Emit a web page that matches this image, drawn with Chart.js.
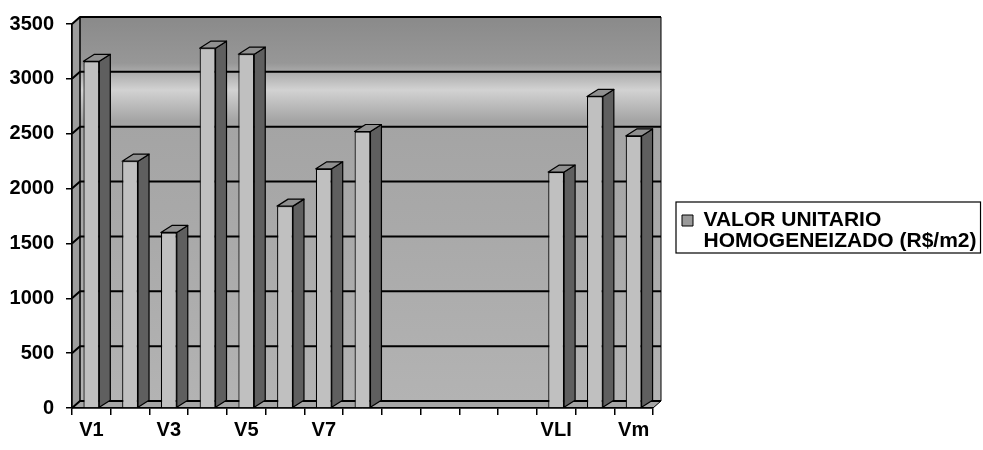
<!DOCTYPE html>
<html>
<head>
<meta charset="utf-8">
<script src="https://cdn.jsdelivr.net/npm/chart.js@4/dist/chart.umd.min.js"></script>
<style>
  html, body { margin: 0; padding: 0; background: #ffffff; }
  #wrap { width: 983px; height: 450px; }
</style>
</head>
<body>
<div id="wrap"><canvas id="chart" width="983" height="450"></canvas></div>
<script>
// Categories along the floor (four empty slots between V8 and VLI)
const categories = ['V1', 'V2', 'V3', 'V4', 'V5', 'V6', 'V7', 'V8', '', '', '', '', 'VLI', 'VLS', 'Vm'];
// Homogenised unit value per category (R$/m2)
const values = [3160, 2250, 1600, 3280, 3225, 1840, 2180, 2520, null, null, null, null, 2150, 2840, 2480];
// Series name, split over two lines in the legend
const seriesLabel = ['VALOR UNITARIO', 'HOMOGENEIZADO (R$/m2)'];
// Value axis range
const yMin = 0;
const yMax = 3500;
const yStep = 500;

const FONT = 'Liberation Sans, Arial, Helvetica, sans-serif';
const LEGEND_SIZE = 21;
const LEGEND_BOX = 11;
const LEGEND_PAD = 29;
const LEGEND_WIDTH = 326;

// depth of the walls and of each column (pixels)
const DX = 8, DY = 7;
const BD = 11, BY = 7;

const COL_FRONT = '#c0c0c0';
const COL_SIDE = '#5f5f5f';
const COL_TOP = '#909090';

function poly(ctx, pts, fill) {
  ctx.beginPath();
  ctx.moveTo(pts[0][0], pts[0][1]);
  for (let k = 1; k < pts.length; k++) ctx.lineTo(pts[k][0], pts[k][1]);
  ctx.closePath();
  if (fill) { ctx.fillStyle = fill; ctx.fill(); }
  ctx.stroke();
}

// back wall, side wall, floor and wall gridlines
const wallPlugin = {
  id: 'wall3d',
  beforeDraw(chart) {
    const { ctx, chartArea: a, scales: { y } } = chart;
    const bl = a.left + DX, br = a.right + DX, bt = a.top - DY, bb = a.bottom - DY;
    ctx.save();

    const g = ctx.createLinearGradient(0, bt, 0, bb);
    g.addColorStop(0.0, '#8a8a8a');
    g.addColorStop(0.12, '#979797');
    g.addColorStop(0.19, '#d2d2d2');
    g.addColorStop(0.27, '#a4a4a4');
    g.addColorStop(0.6, '#aaaaaa');
    g.addColorStop(1.0, '#b3b3b3');
    ctx.fillStyle = g;
    ctx.fillRect(bl, bt, br - bl, bb - bt);

    ctx.strokeStyle = '#000';
    ctx.lineWidth = 1;
    ctx.lineJoin = 'round';
    // side wall
    poly(ctx, [[a.left, a.top], [bl, bt], [bl, bb], [a.left, a.bottom]], '#9d9d9d');
    // floor
    poly(ctx, [[a.left, a.bottom], [a.right, a.bottom], [br, bb], [bl, bb]], '#a6a6a6');
    // wall outline
    ctx.beginPath();
    ctx.moveTo(bl, bb);
    ctx.lineTo(bl, bt);
    ctx.lineTo(br, bt);
    ctx.lineTo(br, bb);
    ctx.stroke();

    // gridlines across the side wall and the back wall
    ctx.lineWidth = 2;
    y.ticks.forEach(t => {
      const py = y.getPixelForValue(t.value);
      ctx.beginPath();
      ctx.moveTo(a.left, py);
      ctx.lineTo(bl, py - DY);
      ctx.lineTo(br, py - DY);
      ctx.stroke();
    });
    ctx.restore();
  }
};

// side and top faces of every column, built on the bar elements
const columnPlugin = {
  id: 'columns3d',
  afterDatasetsDraw(chart) {
    const ctx = chart.ctx;
    const meta = chart.getDatasetMeta(0);
    ctx.save();
    ctx.strokeStyle = '#000';
    ctx.lineWidth = 1.2;
    ctx.lineJoin = 'round';
    meta.data.forEach((el, i) => {
      if (values[i] === null || values[i] === undefined) return;
      const { x, y, width, base } = el.getProps(['x', 'y', 'width', 'base'], true);
      const L = x - width / 2, R = x + width / 2;
      poly(ctx, [[R, y], [R + BD, y - BY], [R + BD, base - BY], [R, base]], COL_SIDE);
      poly(ctx, [[L, y], [R, y], [R + BD, y - BY], [L + BD, y - BY]], COL_TOP);
    });
    ctx.restore();
  }
};

// legend: reserve room for the two-line label and frame it
const legendFramePlugin = {
  id: 'legendFrame',
  beforeLayout(chart) {
    const lg = chart.legend;
    if (!lg || lg._wideFit) return;
    const baseFit = lg.fit.bind(lg);
    lg.fit = function () {
      baseFit();
      this.width = LEGEND_WIDTH;
    };
    lg._wideFit = true;
  },
  afterDraw(chart) {
    const lg = chart.legend;
    if (!lg || !lg.legendHitBoxes || !lg.legendHitBoxes.length) return;
    const h = lg.legendHitBoxes[0];
    const ctx = chart.ctx;
    ctx.save();
    ctx.font = 'bold ' + LEGEND_SIZE + 'px ' + FONT;
    const textW = Math.max(...seriesLabel.map(s => ctx.measureText(s).width));
    ctx.strokeStyle = '#000';
    ctx.lineWidth = 1.2;
    const x0 = h.left - 6, y0 = h.top - 8;
    const x1 = h.left + LEGEND_BOX + LEGEND_SIZE / 2 + textW + 4, y1 = h.top + h.height + 1;
    ctx.strokeRect(x0, y0, x1 - x0, y1 - y0);
    ctx.restore();
  }
};

new Chart(document.getElementById('chart'), {
  type: 'bar',
  data: {
    labels: categories,
    datasets: [{
      label: seriesLabel.join(' '),
      data: values,
      backgroundColor: COL_FRONT,
      borderColor: '#000',
      borderWidth: 1.2,
      barPercentage: 0.41,
      categoryPercentage: 1.0
    }]
  },
  options: {
    responsive: false,
    animation: false,
    devicePixelRatio: 1,
    layout: { padding: { top: 24, right: 4, bottom: 12, left: 0 } },
    plugins: {
      tooltip: { enabled: false },
      legend: {
        position: 'right',
        labels: {
          boxWidth: LEGEND_BOX,
          boxHeight: LEGEND_BOX,
          padding: LEGEND_PAD,
          color: '#000',
          font: { family: FONT, size: LEGEND_SIZE, weight: 'bold', lineHeight: 1.0 },
          generateLabels: () => [{
            text: seriesLabel,
            fillStyle: '#9a9a9a',
            strokeStyle: '#000',
            lineWidth: 1,
            hidden: false,
            datasetIndex: 0
          }]
        }
      }
    },
    scales: {
      x: {
        offset: true,
        afterFit: s => { s.height = 30; },
        border: { display: true, color: '#000', width: 1.5 },
        grid: { offset: true, drawOnChartArea: false, drawTicks: true, tickLength: 7, color: '#000', lineWidth: 1.5 },
        ticks: {
          autoSkip: false,
          maxRotation: 0,
          padding: 3,
          color: '#000',
          font: { family: FONT, size: 20, weight: 'bold' },
          callback: (v, i) => (i % 2 === 0 ? categories[i] : '')
        }
      },
      y: {
        min: yMin,
        max: yMax,
        afterFit: s => { s.width = 72; },
        border: { display: true, color: '#000', width: 1.5 },
        grid: { drawOnChartArea: false, drawTicks: true, tickLength: 6, color: '#000', lineWidth: 1.5 },
        ticks: {
          stepSize: yStep,
          padding: 12,
          color: '#000',
          font: { family: FONT, size: 20, weight: 'bold' },
          callback: v => String(v)
        }
      }
    }
  },
  plugins: [wallPlugin, columnPlugin, legendFramePlugin]
});
</script>
</body>
</html>
